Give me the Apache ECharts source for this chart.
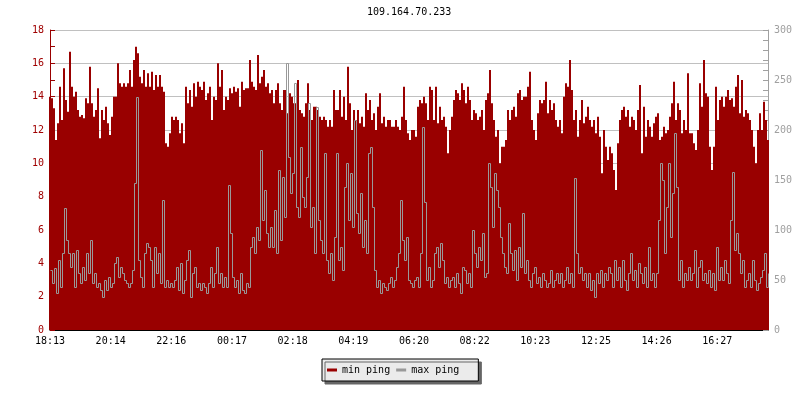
<!DOCTYPE html>
<html>
<head>
<meta charset="utf-8">
<script src="https://cdn.jsdelivr.net/npm/echarts@6/dist/echarts.min.js"></script>
<style>html,body{margin:0;padding:0;background:#fff}#c{width:800px;height:400px}</style>
</head>
<body>
<div id="c"></div>
<script>
const titleText = '109.164.70.233';
const seriesNames = ['min ping', 'max ping'];
const tickLabels = ['18:13','20:14','22:16','00:17','02:18','04:19','06:20','08:22','10:23','12:25','14:26','16:27'];
const tickStep = 30.33; // samples between time labels (4-minute samples)

const minPing = [
14.0,13.9,13.3,11.4,12.4,14.6,12.6,15.7,13.8,13.1,
16.7,14.6,14.0,14.3,13.2,12.8,12.9,12.7,13.9,13.6,
15.8,13.6,12.8,13.2,14.5,11.5,13.2,12.6,13.4,12.4,
11.7,12.8,14.0,14.0,16.0,14.8,14.6,14.8,14.6,14.8,
15.6,14.6,16.2,17.0,16.6,15.2,14.8,15.6,14.6,15.4,
14.6,15.5,14.4,15.3,14.6,15.3,14.6,14.3,11.2,11.0,
11.8,12.8,12.6,12.8,12.6,11.8,12.4,11.2,14.6,13.6,
14.4,13.4,14.8,14.0,14.9,14.6,14.4,14.9,13.8,14.2,
14.6,12.6,14.0,13.8,16.0,14.6,15.6,13.2,14.0,13.8,
14.5,14.2,14.6,14.3,14.5,13.4,14.9,14.4,14.5,14.5,
16.2,14.9,14.6,14.4,16.5,14.8,15.2,15.6,14.6,14.8,
14.2,14.4,13.6,14.4,14.8,13.6,13.2,14.4,14.4,13.0,
14.2,14.0,13.6,13.6,15.0,13.2,13.0,12.8,13.6,14.8,
13.2,12.6,13.4,13.4,13.2,12.8,12.6,12.8,12.6,12.2,
12.6,12.2,14.4,13.2,13.2,14.4,12.8,14.0,12.6,15.8,
13.6,12.0,13.2,12.6,13.2,12.4,12.8,12.2,14.2,13.2,
13.8,12.6,13.0,12.0,13.4,14.2,12.4,12.8,12.2,12.6,
12.6,12.2,12.2,12.6,12.2,12.0,12.8,14.6,12.6,11.8,
11.4,12.0,12.0,11.6,13.4,13.8,13.6,14.0,13.6,12.6,
14.6,14.4,12.6,14.6,12.4,13.4,12.6,12.8,12.2,10.6,
12.0,12.8,13.8,14.4,14.2,13.8,14.8,14.4,13.6,14.6,
13.8,12.6,13.2,13.0,12.6,12.8,13.2,12.0,13.8,14.2,
15.6,13.6,12.6,11.6,12.0,10.0,11.0,11.0,11.4,13.2,
12.6,13.2,13.4,12.8,14.2,14.4,13.8,14.0,14.0,14.6,
15.5,12.6,12.0,11.4,13.0,13.8,13.6,13.8,14.9,13.0,
13.8,13.2,13.6,12.6,12.2,12.6,11.8,14.0,14.8,14.6,
16.2,14.4,12.6,13.2,11.6,12.6,13.8,12.4,12.8,13.4,
12.6,12.2,12.6,11.8,12.8,11.6,9.4,12.0,11.0,10.2,
11.0,10.6,9.6,8.4,11.2,12.6,13.2,13.4,12.8,13.2,
12.2,12.8,12.6,12.0,13.2,14.7,10.6,13.4,11.6,12.6,
12.2,11.6,12.4,12.8,13.0,11.4,11.6,12.2,11.8,12.0,
12.8,13.6,14.9,12.6,13.6,13.2,11.8,12.6,12.0,15.4,
11.8,11.8,11.2,10.8,12.0,14.8,13.4,16.2,14.2,14.0,
11.0,9.6,11.0,14.6,12.6,13.8,14.0,13.4,14.0,14.4,
13.8,13.9,13.4,14.6,15.3,13.0,15.0,12.8,13.2,13.0,
12.6,12.0,11.0,10.0,12.0,13.0,12.0,13.7,12.6,11.4
];

const maxPing = [
60,47,62,37,70,43,77,122,90,77,
63,77,43,80,57,47,63,50,77,57,
90,47,57,43,47,40,33,50,40,53,
43,47,67,73,53,63,57,50,47,43,
47,60,147,233,70,53,43,77,87,83,
70,43,83,57,77,47,130,43,50,43,
47,43,50,63,40,67,37,50,70,80,
33,57,63,43,47,40,47,43,37,47,
63,43,57,83,47,57,43,53,43,145,
97,53,43,50,37,57,40,37,47,43,
83,93,77,103,90,180,110,140,97,83,
103,83,120,77,160,90,153,113,267,173,
137,157,247,123,113,183,133,123,153,227,
103,123,77,223,110,90,77,177,70,57,
77,50,93,177,70,83,60,143,167,110,
157,103,210,117,97,137,83,110,77,177,
183,123,60,43,50,37,47,43,40,47,
53,43,50,63,77,130,90,70,93,50,
47,43,50,53,43,77,203,128,50,63,
43,50,77,83,63,87,70,47,53,43,
50,53,43,57,47,37,63,60,47,57,
43,100,77,63,83,70,97,53,57,167,
143,103,157,140,123,93,77,63,57,107,
77,60,80,50,83,63,117,57,70,50,
43,57,63,47,53,43,57,50,43,47,
60,43,50,57,47,57,43,50,63,47,
57,43,152,77,57,63,50,57,43,57,
40,50,33,57,47,60,43,57,50,63,
57,43,70,50,63,43,70,50,40,57,
77,50,60,43,67,57,47,63,43,83,
50,57,43,57,110,167,150,77,123,167,
93,137,197,143,50,70,43,57,50,63,
50,57,80,43,63,70,50,57,47,60,
43,57,40,83,50,63,50,70,57,47,
110,158,80,97,77,57,70,43,50,57,
43,70,50,40,47,53,60,77,43,57
];

const FONT = 'DejaVu Sans Mono';
const RED = '#990000', GREY = '#999999';
const snap = v => Math.round(v) + 0.5;

const chart = echarts.init(document.getElementById('c'), null, {renderer: 'canvas', devicePixelRatio: 1});
chart.setOption({
  animation: false,
  backgroundColor: '#ffffff',
  title: {
    text: titleText, left: 367, top: 7, padding: 0,
    textStyle: {fontFamily: FONT, fontSize: 10, fontWeight: 'normal', color: '#000'}
  },
  legend: {
    data: seriesNames, left: 322, top: 359, orient: 'horizontal',
    icon: 'rect', itemWidth: 10, itemHeight: 3, itemGap: 6,
    padding: [6, 19, 6, 5],
    backgroundColor: '#ebebeb', borderColor: '#000', borderWidth: 1,
    shadowColor: '#666666', shadowBlur: 0, shadowOffsetX: 3, shadowOffsetY: 3,
    textStyle: {fontFamily: FONT, fontSize: 10, color: '#000'}
  },
  grid: {left: 50, right: 32, top: 30, bottom: 70, containLabel: false},
  xAxis: {
    type: 'value', min: 0, max: minPing.length - 1, interval: tickStep,
    axisLine: {show: true, lineStyle: {color: '#000'}},
    axisTick: {show: true, inside: true, length: 5, lineStyle: {color: '#000'}},
    axisLabel: {
      margin: 6, color: '#000', fontFamily: FONT, fontSize: 10, showMaxLabel: false,
      formatter: function (v) { const k = Math.round(v / tickStep); return tickLabels[k] || ''; }
    },
    splitLine: {show: false}
  },
  yAxis: [
    {
      type: 'value', min: 0, max: 18, interval: 2, position: 'left',
      axisLine: {show: true, lineStyle: {color: RED}},
      axisTick: {show: true, inside: true, length: 5, lineStyle: {color: RED}},
      minorTick: {show: true, splitNumber: 2, length: 5, lineStyle: {color: RED}},
      axisLabel: {margin: 6, color: '#a00000', fontFamily: FONT, fontSize: 10},
      splitLine: {show: true, lineStyle: {color: '#c0c0c0', width: 1}}
    },
    {
      type: 'value', min: 0, max: 300, interval: 50, position: 'right',
      axisLine: {show: true, lineStyle: {color: '#a0a0a0'}},
      axisTick: {show: true, inside: true, length: 5, lineStyle: {color: '#a0a0a0'}},
      minorTick: {show: true, splitNumber: 5, length: 5, lineStyle: {color: '#a0a0a0'}},
      axisLabel: {margin: 6, color: '#a0a0a0', fontFamily: FONT, fontSize: 10},
      splitLine: {show: false}
    }
  ],
  series: [
    {
      name: seriesNames[0], type: 'bar', xAxisIndex: 0, yAxisIndex: 0,
      barWidth: 2, color: RED, itemStyle: {color: RED},
      data: minPing.map((v, i) => [i, v]), z: 2
    },
    {
      name: seriesNames[1], type: 'custom', xAxisIndex: 0, yAxisIndex: 1,
      color: GREY, itemStyle: {color: GREY},
      encode: {x: 0, y: 1},
      data: maxPing.map((v, i) => [i, v, i > 0 ? maxPing[i - 1] : v]),
      renderItem: function (params, api) {
        const i = api.value(0);
        const prev = api.coord([Math.max(i - 1, 0), api.value(2)]);
        const cur = api.coord([i, api.value(1)]);
        const x0 = snap(prev[0]), x1 = snap(cur[0]);
        const y0 = snap(prev[1]), y1 = snap(cur[1]);
        return {
          type: 'polyline',
          shape: {points: [[x0, y0], [x1, y0], [x1, y1]]},
          style: {stroke: GREY, lineWidth: 1, fill: 'none'},
          silent: true
        };
      },
      z: 3
    }
  ]
});
</script>
</body>
</html>
